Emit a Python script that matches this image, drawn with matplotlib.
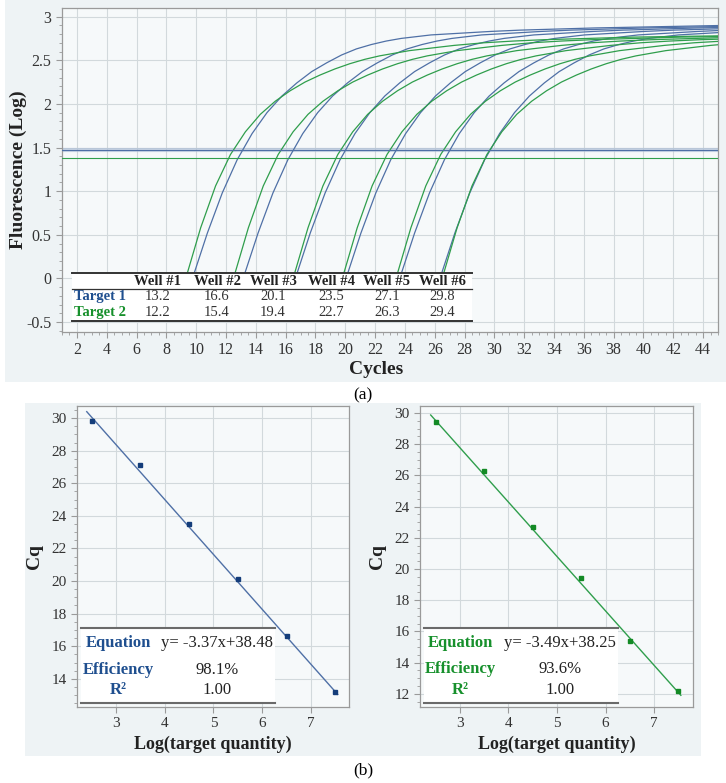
import matplotlib
matplotlib.use("Agg")
import matplotlib.pyplot as plt
import numpy as np
from matplotlib.patches import Rectangle
from matplotlib.ticker import MultipleLocator, FormatStrFormatter

# ── Data ──────────────────────────────────────────────────────────────────────

wells       = ["Well #1", "Well #2", "Well #3", "Well #4", "Well #5", "Well #6"]
target1_cq  = [13.2, 16.6, 20.1, 23.5, 27.1, 29.8]
target2_cq  = [12.2, 15.4, 19.4, 22.7, 26.3, 29.4]

# amplification curve profile (cycles after take-off, log fluorescence)
shape_cycles  = [0, 1, 2, 3, 4, 5, 6, 7, 8, 9, 10, 11, 12, 13, 14, 15, 16,
                 18, 20, 22, 24, 27, 30, 36]
target1_shape = [0, 0.52, 0.98, 1.36, 1.66, 1.90, 2.09, 2.24, 2.37, 2.47,
                 2.56, 2.63, 2.68, 2.72, 2.75, 2.77, 2.79, 2.81, 2.83, 2.845,
                 2.855, 2.87, 2.88, 2.90]
target2_shape = [0, 0.58, 1.06, 1.42, 1.68, 1.88, 2.03, 2.15, 2.25, 2.33,
                 2.40, 2.46, 2.51, 2.55, 2.58, 2.61, 2.63, 2.67, 2.70, 2.72,
                 2.735, 2.75, 2.765, 2.78]
# take-off cycle of each well's curve
target1_start = [9.75, 13.15, 16.65, 20.05, 23.65, 26.35]
target2_start = [9.3, 12.5, 16.5, 19.8, 23.4, 26.5]

target1_threshold = 1.47
target2_threshold = 1.38

log_quantity = [7.5, 6.5, 5.5, 4.5, 3.5, 2.5]
fit1 = (-3.37, 38.48)
fit2 = (-3.49, 38.25)
fit_range = (2.4, 7.55)

eq1 = ("y= -3.37x+38.48", "98.1%", "1.00")
eq2 = ("y= -3.49x+38.25", "93.6%", "1.00")

# ── Style ─────────────────────────────────────────────────────────────────────

BLUE_LINE  = "#4f70a6"
GREEN_LINE = "#2f9e4c"
BLUE_TEXT  = "#1f4f8f"
GREEN_TEXT = "#17902c"
BLUE_MARK  = "#143d7a"
GREEN_MARK = "#138a25"
PANEL_BG   = "#eef3f5"
AXES_BG    = "#f6f9fa"
GRID       = "#d2d9dc"
SPINE      = "#9a9a9a"

plt.rcParams["font.family"] = ["Liberation Serif", "DejaVu Serif"]
plt.rcParams["axes.unicode_minus"] = False

W, H = 726, 783
fig = plt.figure(figsize=(W / 100, H / 100), dpi=100)
fig.patch.set_facecolor("white")


def fx(px):
    return px / W


def fy(py):
    return 1 - py / H


# panel backgrounds (behind the axes)
fig.patches.append(Rectangle((fx(5), fy(382)), fx(721), 382 / H,
                             transform=fig.transFigure, facecolor=PANEL_BG,
                             edgecolor="none", zorder=-5))
fig.patches.append(Rectangle((fx(25), fy(756)), fx(676), 353 / H,
                             transform=fig.transFigure, facecolor=PANEL_BG,
                             edgecolor="none", zorder=-5))


def style_axes(ax):
    ax.set_facecolor(AXES_BG)
    for sp in ax.spines.values():
        sp.set_color(SPINE)
        sp.set_linewidth(0.9)
    ax.grid(True, color=GRID, linewidth=0.8, zorder=0)
    ax.set_axisbelow(True)
    ax.tick_params(which="major", direction="out", length=4, color=SPINE,
                   labelcolor="#333333")
    ax.tick_params(which="minor", direction="out", length=2, color=SPINE)


# ── (a) amplification curves ──────────────────────────────────────────────────

ax = fig.add_axes([fx(62), fy(331.7), fx(656), 323.4 / H])
style_axes(ax)
ax.set_xlim(1, 45)
ax.set_ylim(-0.61, 3.095)
ax.xaxis.set_major_locator(MultipleLocator(2))
ax.xaxis.set_minor_locator(MultipleLocator(0.5))
ax.yaxis.set_major_locator(MultipleLocator(0.5))
ax.yaxis.set_minor_locator(MultipleLocator(0.1))
ax.yaxis.set_major_formatter(FormatStrFormatter("%g"))
ax.set_xticks(range(2, 45, 2))
ax.tick_params(labelsize=11.5)

for s in target1_start:
    ax.plot(np.array(shape_cycles) + s, target1_shape, color=BLUE_LINE,
            lw=0.9, zorder=3)
for s in target2_start:
    ax.plot(np.array(shape_cycles) + s, target2_shape, color=GREEN_LINE,
            lw=0.9, zorder=3)

ax.axhline(target1_threshold, color="#a9bcd6", lw=3.0, alpha=0.6, zorder=2)
ax.axhline(target1_threshold, color=BLUE_LINE, lw=0.8, zorder=3)
ax.axhline(target2_threshold, color=GREEN_LINE, lw=0.8, zorder=3)

# Cq table inside the plot
tl, tr, tt, tb = 0.0148, 0.625, 0.1806, 0.0331
ax.add_patch(Rectangle((tl, tb), tr - tl, tt - tb, transform=ax.transAxes,
                       facecolor="white", edgecolor="none", zorder=5))
for yy, lw in [(tt, 1.4), (0.1311, 0.9), (tb, 1.4)]:
    ax.plot([tl, tr], [yy, yy], transform=ax.transAxes, color="#333333",
            lw=lw, zorder=6, clip_on=False)
col_x = [0.1463, 0.2363, 0.3216, 0.4101, 0.4954, 0.5793]
for x, w, v1, v2 in zip(col_x, wells, target1_cq, target2_cq):
    ax.text(x, 0.1546, w, transform=ax.transAxes, ha="center", va="center",
            fontsize=10.5, fontweight="bold", color="#222222", zorder=7)
    ax.text(x, 0.1073, f"{v1:.1f}", transform=ax.transAxes, ha="center",
            va="center", fontsize=10.5, color="#333333", zorder=7)
    ax.text(x, 0.0588, f"{v2:.1f}", transform=ax.transAxes, ha="center",
            va="center", fontsize=10.5, color="#333333", zorder=7)
ax.text(0.0579, 0.1073, "Target 1", transform=ax.transAxes, ha="center",
        va="center", fontsize=10.5, fontweight="bold", color=BLUE_TEXT,
        zorder=7)
ax.text(0.0579, 0.0588, "Target 2", transform=ax.transAxes, ha="center",
        va="center", fontsize=10.5, fontweight="bold", color=GREEN_TEXT,
        zorder=7)

fig.text(fx(18), fy(170), "Fluorescence (Log)", rotation=90, ha="center",
         va="center", fontsize=14, fontweight="bold", color="#222222")
fig.text(fx(376), fy(370), "Cycles", ha="center", va="center", fontsize=14,
         fontweight="bold", color="#222222")
fig.text(fx(363), fy(395), "(a)", ha="center", va="center", fontsize=12.5)

# ── (b) standard curves ───────────────────────────────────────────────────────


def standard_curve(rect, lims, yticks, cq, fit, eq, line_c, mark_c, text_c,
                   cols, rows):
    bx = fig.add_axes(rect)
    style_axes(bx)
    bx.set_xlim(*lims[0])
    bx.set_ylim(*lims[1])
    bx.set_xticks([3, 4, 5, 6, 7])
    bx.set_yticks(yticks)
    bx.yaxis.set_minor_locator(MultipleLocator(0.5))
    bx.tick_params(labelsize=11)

    xs = np.array(fit_range)
    bx.plot(xs, fit[0] * xs + fit[1], color=line_c, lw=1.0, zorder=3)
    bx.plot(log_quantity, cq, "s", color=mark_c, markersize=3.5, zorder=4)

    l, r, t, b = 0.016, 0.727, 0.2625, 0.0133
    bx.add_patch(Rectangle((l, b), r - l, t - b, transform=bx.transAxes,
                           facecolor="white", edgecolor="none", zorder=5))
    for yy in (t, b):
        bx.plot([l, r], [yy, yy], transform=bx.transAxes, color="#6a6a6a",
                lw=1.5, zorder=6, clip_on=False)
    labels = ["Equation", "Efficiency", "R²"]
    for lab, val, yy in zip(labels, eq, rows):
        bx.text(cols[0], yy, lab, transform=bx.transAxes, ha="center",
                va="center", fontsize=12, fontweight="bold", color=text_c,
                zorder=7)
        bx.text(cols[1], yy, val, transform=bx.transAxes, ha="center",
                va="center", fontsize=12, color="#222222", zorder=7)

    bx.set_xlabel("Log(target quantity)", fontsize=13, fontweight="bold",
                  color="#222222", labelpad=4)
    bx.set_ylabel("Cq", fontsize=14, fontweight="bold", color="#222222",
                  labelpad=6)
    return bx


standard_curve([fx(77), fy(707), fx(272), 301 / H],
               ((2.2, 7.78), (12.27, 30.74)), range(14, 31, 2),
               target1_cq, fit1, eq1, BLUE_LINE, BLUE_MARK, BLUE_TEXT,
               (0.1507, 0.5147), (0.2126, 0.1229, 0.0565))
standard_curve([fx(420), fy(707), fx(273), 301 / H],
               ((2.18, 7.8), (11.15, 30.45)), range(12, 31, 2),
               target2_cq, fit2, eq2, GREEN_LINE, GREEN_MARK, GREEN_TEXT,
               (0.1465, 0.5128), (0.2126, 0.1262, 0.0565))

fig.text(fx(363), fy(770), "(b)", ha="center", va="center", fontsize=12.5)

fig.savefig("out.png", dpi=100)
